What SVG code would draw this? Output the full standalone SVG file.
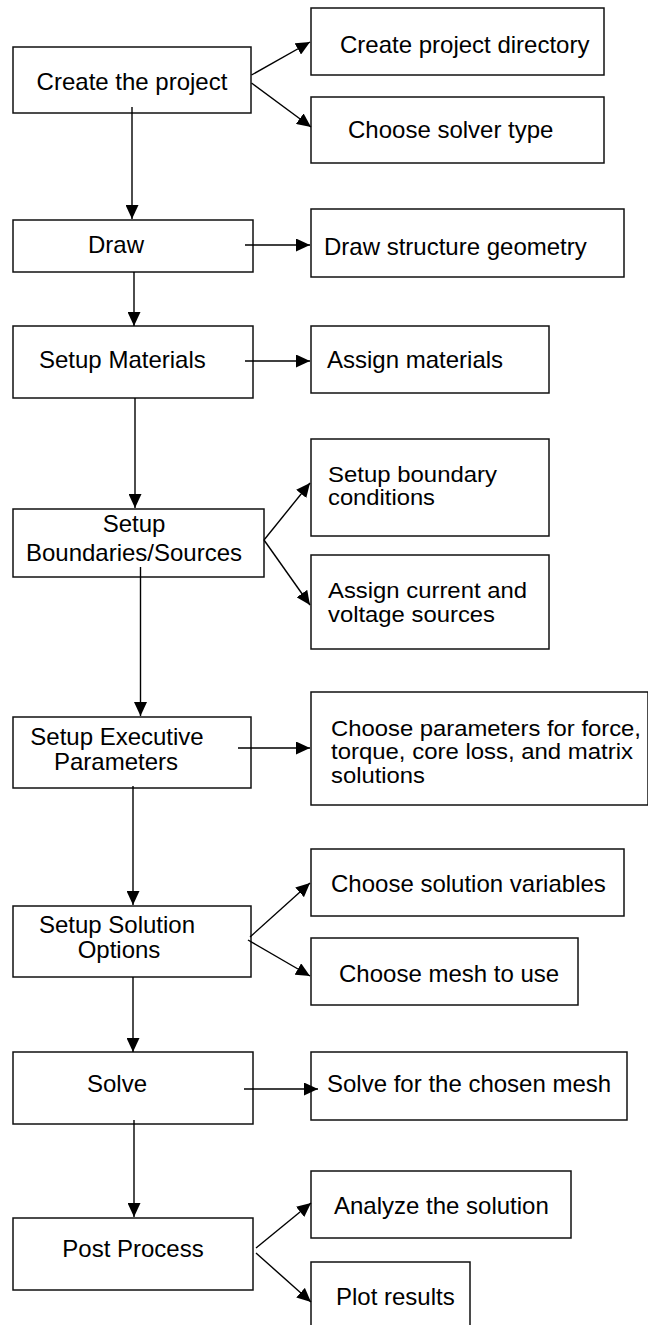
<svg xmlns="http://www.w3.org/2000/svg" width="648" height="1325" viewBox="0 0 648 1325">
<style>
.box{fill:#fff;stroke:#111;stroke-width:1.5}
.t{font-family:"Liberation Sans",Arial,sans-serif;font-size:24px;fill:#000}
.s{font-size:22px}
.c{text-anchor:middle}
.ln{stroke:#000;stroke-width:1.4;fill:none;marker-end:url(#ah)}
</style>
<defs>
<marker id="ah" viewBox="0 0 14 13" refX="14" refY="6.5" markerWidth="14" markerHeight="13" markerUnits="userSpaceOnUse" orient="auto">
<path d="M0,0 L14,6.5 L0,13 z" fill="#000"/>
</marker>
</defs>
<rect width="648" height="1325" fill="#fff"/>
<g id="create-project"><rect class="box" x="13" y="47" width="238" height="66"/><text class="t c" x="132" y="90">Create the project</text></g>
<g id="create-dir"><rect class="box" x="311" y="8" width="293" height="67"/><text class="t" x="340" y="53">Create project directory</text></g>
<g id="choose-solver"><rect class="box" x="311" y="97" width="293" height="66"/><text class="t" x="348" y="138">Choose solver type</text></g>
<g id="draw"><rect class="box" x="13" y="220" width="240" height="52"/><text class="t c" x="116" y="253">Draw</text></g>
<g id="draw-geom"><rect class="box" x="311" y="209" width="313" height="68"/><text class="t" x="324" y="255">Draw structure geometry</text></g>
<g id="setup-materials"><rect class="box" x="13" y="326" width="240" height="72"/><text class="t" x="39" y="368">Setup Materials</text></g>
<g id="assign-materials"><rect class="box" x="311" y="326" width="238" height="67"/><text class="t" x="327" y="368">Assign materials</text></g>
<g id="setup-boundaries"><rect class="box" x="13" y="509" width="251" height="68"/><text class="t c" x="134" y="532">Setup</text><text class="t c" x="134" y="561">Boundaries/Sources</text></g>
<g id="boundary-conditions"><rect class="box" x="311" y="439" width="238" height="97"/><text class="t s" x="328" y="482" textLength="169" lengthAdjust="spacingAndGlyphs">Setup boundary</text><text class="t s" x="328" y="505" textLength="107" lengthAdjust="spacingAndGlyphs">conditions</text></g>
<g id="current-voltage"><rect class="box" x="311" y="555" width="238" height="94"/><text class="t s" x="328" y="598" textLength="199" lengthAdjust="spacingAndGlyphs">Assign current and</text><text class="t s" x="328" y="622" textLength="167" lengthAdjust="spacingAndGlyphs">voltage sources</text></g>
<g id="setup-executive"><rect class="box" x="13" y="717" width="238" height="71"/><text class="t c" x="117" y="745">Setup Executive</text><text class="t c" x="116" y="770">Parameters</text></g>
<g id="choose-parameters"><rect class="box" x="311" y="692" width="337" height="113"/><text class="t s" x="331" y="736" textLength="310" lengthAdjust="spacingAndGlyphs">Choose parameters for force,</text><text class="t s" x="331" y="759" textLength="302" lengthAdjust="spacingAndGlyphs">torque, core loss, and matrix</text><text class="t s" x="331" y="783" textLength="94" lengthAdjust="spacingAndGlyphs">solutions</text></g>
<g id="setup-solution"><rect class="box" x="13" y="906" width="238" height="71"/><text class="t c" x="117" y="933">Setup Solution</text><text class="t c" x="119" y="958">Options</text></g>
<g id="solution-variables"><rect class="box" x="311" y="849" width="313" height="67"/><text class="t" x="331" y="892">Choose solution variables</text></g>
<g id="mesh"><rect class="box" x="311" y="938" width="267" height="67"/><text class="t" x="339" y="982">Choose mesh to use</text></g>
<g id="solve"><rect class="box" x="13" y="1052" width="240" height="72"/><text class="t c" x="117" y="1092">Solve</text></g>
<g id="solve-mesh"><rect class="box" x="311" y="1052" width="316" height="68"/><text class="t" x="327" y="1092">Solve for the chosen mesh</text></g>
<g id="post-process"><rect class="box" x="13" y="1218" width="240" height="72"/><text class="t c" x="133" y="1257">Post Process</text></g>
<g id="analyze"><rect class="box" x="311" y="1171" width="260" height="67"/><text class="t" x="334" y="1214">Analyze the solution</text></g>
<g id="plot"><rect class="box" x="311" y="1262" width="159" height="80"/><text class="t" x="336" y="1305">Plot results</text></g>
<g id="connectors">
<line class="ln" x1="251.5" y1="75" x2="310" y2="42"/>
<line class="ln" x1="251.5" y1="83" x2="311" y2="127"/>
<line class="ln" x1="132" y1="107" x2="132" y2="219"/>
<line class="ln" x1="245" y1="245" x2="310" y2="245"/>
<line class="ln" x1="134" y1="272" x2="134" y2="326"/>
<line class="ln" x1="245" y1="361" x2="310" y2="361"/>
<line class="ln" x1="135" y1="398" x2="135" y2="508"/>
<line class="ln" x1="264" y1="540" x2="310" y2="483"/>
<line class="ln" x1="264" y1="540" x2="310" y2="605"/>
<line class="ln" x1="140.5" y1="567" x2="140.5" y2="716"/>
<line class="ln" x1="238" y1="748" x2="310" y2="748"/>
<line class="ln" x1="133" y1="786" x2="133" y2="905"/>
<line class="ln" x1="250" y1="937" x2="310" y2="883"/>
<line class="ln" x1="248" y1="940" x2="310" y2="976"/>
<line class="ln" x1="133" y1="977" x2="133" y2="1052"/>
<line class="ln" x1="244" y1="1089" x2="318" y2="1089"/>
<line class="ln" x1="134" y1="1120" x2="134" y2="1217"/>
<line class="ln" x1="256" y1="1248" x2="311" y2="1203"/>
<line class="ln" x1="256" y1="1253" x2="311" y2="1302"/>
</g>
</svg>
